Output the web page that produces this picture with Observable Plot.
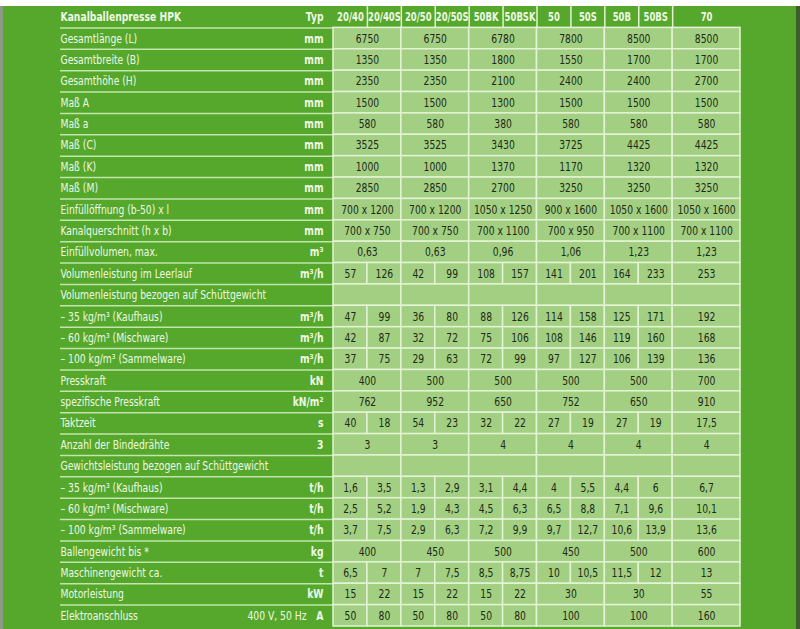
<!DOCTYPE html>
<html>
<head>
<meta charset="utf-8">
<script src="https://cdn.jsdelivr.net/npm/d3@7"></script>
<script src="https://cdn.jsdelivr.net/npm/@observablehq/plot@0.6"></script>
<style>
  html, body { margin: 0; padding: 0; background: #ffffff; }
  #chart { padding-top: 6px; }
  #chart svg { display: block; box-shadow: inset 3px 0 0 #8c9a84, inset -4px 0 0 #3d5e2c; }
</style>
</head>
<body>
<div id="chart"></div>
<script>
const title = "Kanalballenpresse HPK";
const typeHeader = "Typ";
const types = ["20/40","20/40S","20/50","20/50S","50BK","50BSK","50","50S","50B","50BS","70"];

const labels = [
  "Gesamtlänge (L)", "Gesamtbreite (B)", "Gesamthöhe (H)", "Maß A", "Maß a",
  "Maß (C)", "Maß (K)", "Maß (M)", "Einfüllöffnung (b-50) x l", "Kanalquerschnitt (h x b)",
  "Einfüllvolumen, max.", "Volumenleistung im Leerlauf", "Volumenleistung bezogen auf Schüttgewicht",
  "– 35 kg/m³ (Kaufhaus)", "– 60 kg/m³ (Mischware)", "– 100 kg/m³ (Sammelware)",
  "Presskraft", "spezifische Presskraft", "Taktzeit", "Anzahl der Bindedrähte",
  "Gewichtsleistung bezogen auf Schüttgewicht",
  "– 35 kg/m³ (Kaufhaus)", "– 60 kg/m³ (Mischware)", "– 100 kg/m³ (Sammelware)",
  "Ballengewicht bis *", "Maschinengewicht ca.", "Motorleistung", "Elektroanschluss"
];
const units = [
  "mm","mm","mm","mm","mm","mm","mm","mm","mm","mm",
  "m³","m³/h","",
  "m³/h","m³/h","m³/h",
  "kN","kN/m²","s","3","",
  "t/h","t/h","t/h",
  "kg","t","kW","A"
];
const notes = { "Elektroanschluss": "400 V, 50 Hz" };

// pair rows: one value per machine family (20/40, 20/50, 50BK, 50, 50B, 70)
const pair = a => [a[0], null, a[1], null, a[2], null, a[3], null, a[4], null, a[5]];
const values = [
  pair(["6750","6750","6780","7800","8500","8500"]),
  pair(["1350","1350","1800","1550","1700","1700"]),
  pair(["2350","2350","2100","2400","2400","2700"]),
  pair(["1500","1500","1300","1500","1500","1500"]),
  pair(["580","580","380","580","580","580"]),
  pair(["3525","3525","3430","3725","4425","4425"]),
  pair(["1000","1000","1370","1170","1320","1320"]),
  pair(["2850","2850","2700","3250","3250","3250"]),
  pair(["700 x 1200","700 x 1200","1050 x 1250","900 x 1600","1050 x 1600","1050 x 1600"]),
  pair(["700 x 750","700 x 750","700 x 1100","700 x 950","700 x 1100","700 x 1100"]),
  pair(["0,63","0,63","0,96","1,06","1,23","1,23"]),
  ["57","126","42","99","108","157","141","201","164","233","253"],
  pair(["","","","","",""]),
  ["47","99","36","80","88","126","114","158","125","171","192"],
  ["42","87","32","72","75","106","108","146","119","160","168"],
  ["37","75","29","63","72","99","97","127","106","139","136"],
  pair(["400","500","500","500","500","700"]),
  pair(["762","952","650","752","650","910"]),
  ["40","18","54","23","32","22","27","19","27","19","17,5"],
  pair(["3","3","4","4","4","4"]),
  pair(["","","","","",""]),
  ["1,6","3,5","1,3","2,9","3,1","4,4","4","5,5","4,4","6","6,7"],
  ["2,5","5,2","1,9","4,3","4,5","6,3","6,5","8,8","7,1","9,6","10,1"],
  ["3,7","7,5","2,9","6,3","7,2","9,9","9,7","12,7","10,6","13,9","13,6"],
  pair(["400","450","500","450","500","600"]),
  ["6,5","7","7","7,5","8,5","8,75","10","10,5","11,5","12","13"],
  ["15","22","15","22","15","22","30",null,"30",null,"55"],
  ["50","80","50","80","50","80","100",null,"100",null,"160"]
];

// ---- derived layout (column slots: "70" has no S variant, so it takes two slots)
const slotW = t => (t === "70" ? 2 : 1);
const slotStart = [];
let acc = 0;
types.forEach(t => { slotStart.push(acc); acc += slotW(t); });
const totalSlots = acc;

const cells = [];
values.forEach((vals, r) => {
  let i = 0;
  while (i < vals.length) {
    let j = i;
    while (j + 1 < vals.length && vals[j + 1] === null) j++;
    cells.push({ row: r + 1, x1: slotStart[i], x2: slotStart[j] + slotW(types[j]), text: vals[i] });
    i = j + 1;
  }
});

const headerCells = types.map((t, i) => ({ t, x: slotStart[i] + slotW(t) / 2 }));
const headerSeps = types.slice(1).map((t, i) => ({ x: slotStart[i + 1] }));
const headRow = [{ label: title, unit: typeHeader, row: 0 }];
const bodyRows = labels.map((l, i) => ({ label: l, unit: units[i], row: i + 1, note: notes[l] || "" }));
const allRows = headRow.concat(bodyRows);
const rowLines = d3.range(1, labels.length + 1);

const bg = "#55a82b", light = "#a2cf82", cellLine = "#e3f3d4", leftLine = "#c3e4aa";
const dark = "#1e2a16", pale = "#eef8e6";
const font = "'DejaVu Sans Condensed', 'DejaVu Sans', sans-serif";

const chart = Plot.plot({
  width: 800,
  height: 623,
  marginTop: 0, marginBottom: 3, marginLeft: 60, marginRight: 0,
  x: { domain: [0, totalSlots], range: [333, 740], axis: null },
  y: { domain: [0, labels.length + 1], range: [0, 620], axis: null },
  style: { background: bg, fontFamily: font, fontSize: "12px", overflow: "visible" },
  marks: [
    Plot.ruleY(rowLines, { y: d => d, stroke: leftLine, strokeWidth: 1.5, insetRight: 60 }),
    Plot.rect(cells, { x1: "x1", x2: "x2", y1: "row", y2: d => d.row + 1, fill: light, stroke: cellLine, strokeWidth: 1.5 }),
    Plot.ruleX(headerSeps, { x: "x", y1: () => 0, y2: () => 1, stroke: cellLine, strokeWidth: 1.5 }),
    Plot.text(headerCells, { x: "x", y: () => 0.5, text: "t", fill: pale, fontWeight: "bold", fontSize: 11.5 }),
    Plot.text(headRow, { frameAnchor: "left", y: d => d.row + 0.5, text: "label", textAnchor: "start", fill: pale,
      fontWeight: "bold", fontSize: 12.5 }),
    Plot.text(bodyRows, { frameAnchor: "left", y: d => d.row + 0.5, text: "label", textAnchor: "start", fill: pale,
      fontSize: 12.5 }),
    Plot.text(allRows, { x: () => 0, y: d => d.row + 0.5, text: "unit", textAnchor: "end", dx: -10, fill: pale,
      fontWeight: "bold", fontSize: 12.5 }),
    Plot.text(bodyRows.filter(d => d.note), { x: () => 0, y: d => d.row + 0.5, text: "note", textAnchor: "end", dx: -27, fill: pale, fontSize: 12.5 }),
    Plot.text(cells, { x: d => (d.x1 + d.x2) / 2, y: d => d.row + 0.5, text: "text", fill: dark, fontSize: 12.5 })
  ]
});

// condensed look: narrow every text horizontally around its anchor
const squeeze = 0.82;
chart.querySelectorAll("text").forEach(el => {
  const t = el.getAttribute("transform");
  if (t) {
    el.setAttribute("transform", t + ` scale(${squeeze},1)`);
  } else {
    const x = +(el.getAttribute("x") || 0), y = +(el.getAttribute("y") || 0);
    el.removeAttribute("x"); el.removeAttribute("y");
    el.setAttribute("transform", `translate(${x},${y}) scale(${squeeze},1)`);
  }
});
document.getElementById("chart").appendChild(chart);
</script>
</body>
</html>
